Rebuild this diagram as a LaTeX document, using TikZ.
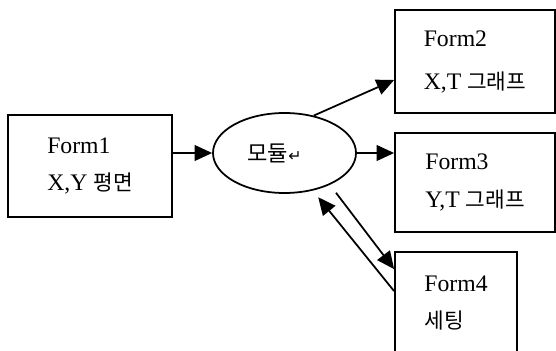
\documentclass[tikz,border=0pt]{standalone}
\usepackage{fontspec}
\setmainfont{Liberation Serif}
\newfontfamily\kr[Scale=0.9]{Noto Sans CJK KR}
\newfontfamily\sym{DejaVu Sans}
\usetikzlibrary{shapes.geometric,arrows.meta}

\begin{document}
\begin{tikzpicture}[
    form/.style={draw, line width=1pt, align=left, inner sep=0pt,
        font=\fontsize{13.5}{21.5}\selectfont},
    conn/.style={line width=1pt, -{Triangle[length=10pt,width=9pt]}}
]
    \clip (0,0) rectangle (11.12,-7.02);

    % Form 1
    \node[form, minimum width=3.28cm, minimum height=2.04cm] (form1) at (1.80,-3.32)
        {Form1\\X,Y {\kr 평면}};

    % module
    \node[draw, ellipse, line width=1pt, inner sep=0pt, minimum width=2.86cm,
        minimum height=1.60cm, font=\fontsize{14}{16}\selectfont] (mod) at (5.69,-3.06)
        {{\kr 모듈}{\sym\fontsize{9}{10}\selectfont ↵}\hspace*{0.4cm}};

    % Form 2, 3, 4
    \node[form, minimum width=3.20cm, minimum height=2.06cm] (form2) at (9.50,-1.23)
        {Form2\\[3pt]X,T {\kr 그래프}};
    \node[form, minimum width=3.20cm, minimum height=1.98cm] (form3) at (9.50,-3.65)
        {Form3\\Y,T {\kr 그래프}};
    \node[form, minimum width=2.44cm, minimum height=2.04cm] (form4) at (9.12,-6.06)
        {Form4\\{\kr 세팅}};

    % arrows
    \draw[conn] (form1.east |- mod.west) -- (mod.west);
    \draw[conn] (mod.52) -- ([yshift=-0.37cm]form2.west);
    \draw[conn] (mod.east) -- (form3.west |- mod.east);
    \draw[conn, shorten <=0.2cm] (mod.-35) -- ([yshift=-0.36cm]form4.north west);
    \draw[conn, shorten >=0.17cm] ([yshift=-0.8cm]form4.north west) -- (mod.-53);
\end{tikzpicture}
\end{document}
